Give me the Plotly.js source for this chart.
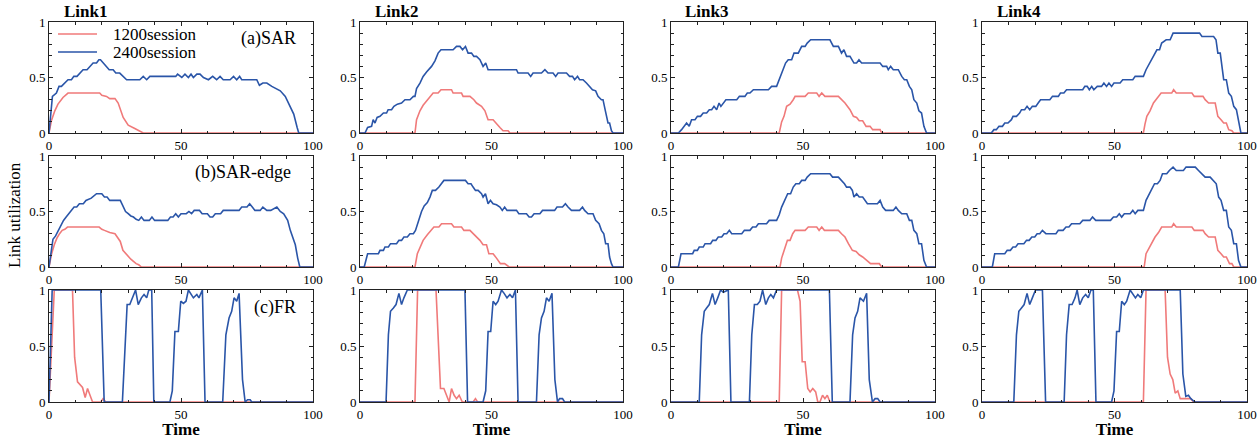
<!DOCTYPE html>
<html>
<head>
<meta charset="utf-8">
<script src="https://cdn.plot.ly/plotly-3.0.1.min.js"></script>
<style>html,body{margin:0;padding:0;background:#fff;}#chart{width:1260px;height:439px;}</style>
</head>
<body>
<div id="chart"></div>
<script>
// ---------------- DATA ----------------
const seriesNames = ["1200session", "2400session"];
const linkNames = ["Link1", "Link2", "Link3", "Link4"];
const schemeNames = ["(a)SAR", "(b)SAR-edge", "(c)FR"];
const xTicks = [0, 50, 100];
const yTicks = [0, 0.5, 1];
const yTickText = ["0", "0.5", "1"];

// (a) SAR
const sar1_t2400 = [0,1.3,2.8,3.8,4.7,5.9,7.2,8.5,9.4,10.6,11.6,12.9,14.4,15.4,16.7,18,18.9,19.5,20.5,21.8,22.8,24.3,25.3,26.8,28.1,29.4,34.4,35.7,37,38.2,48,48.7,50.3,51.5,52.8,53.8,54.7,56,57.2,58.5,60.4,62,63.5,64.8,66,68.6,69.9,71.1,72.2,73,78.7,79.7,81,82.5,84.4,86.3,87.6,89.5,90.8,92.7,94,94.6,100];
const sar1_v2400 = [0,0.33,0.36,0.42,0.42,0.45,0.48,0.48,0.51,0.51,0.54,0.57,0.57,0.6,0.63,0.63,0.66,0.66,0.63,0.6,0.57,0.57,0.54,0.54,0.51,0.48,0.48,0.51,0.48,0.51,0.51,0.53,0.5,0.53,0.5,0.53,0.5,0.53,0.53,0.5,0.48,0.51,0.48,0.51,0.48,0.48,0.51,0.48,0.51,0.48,0.48,0.43,0.45,0.45,0.42,0.40,0.38,0.33,0.27,0.17,0.05,0,0];
const sar1_t1200 = [0,0.9,2.2,3.4,5.3,7.2,19.2,20,21.8,23,25,26.2,28.1,30,32.5,34.4,35.7,100];
const sar1_v1200 = [0,0.11,0.2,0.26,0.32,0.36,0.36,0.34,0.33,0.31,0.31,0.27,0.14,0.07,0.04,0.02,0,0];

const sar2_t2400 = [0,1.9,2.9,3.8,4.4,5,5.7,6.5,7.6,8.9,10.1,10.7,12,12.9,14.2,15.8,17.1,19,20.3,20.9,21.5,22.8,24,25.3,27.2,28.5,29.7,30.8,35.4,36.7,38,39,40.1,41.1,42.4,43.3,44.3,45.6,46.8,47.8,48.7,59.5,60.1,63.9,64.9,65.8,69,70.3,71.5,73.4,74.4,75.3,78.5,79.7,80.8,81.6,82.7,83.5,84.8,86.1,87.3,88.4,89.6,90.5,91.8,92.4,93.3,94.3,94.9,95.6,96.2,100];
const sar2_v2400 = [0,0,0.05,0.06,0.06,0.12,0.09,0.14,0.15,0.18,0.18,0.21,0.21,0.24,0.26,0.27,0.3,0.3,0.33,0.33,0.4,0.45,0.51,0.55,0.6,0.65,0.72,0.75,0.75,0.78,0.78,0.75,0.78,0.72,0.72,0.69,0.69,0.66,0.6,0.63,0.57,0.57,0.54,0.54,0.51,0.54,0.54,0.57,0.54,0.54,0.51,0.54,0.54,0.51,0.51,0.48,0.51,0.48,0.48,0.45,0.42,0.39,0.38,0.33,0.3,0.3,0.2,0.09,0.09,0.02,0,0];
const sar2_t1200 = [0,20.9,21.5,22.8,24,25.3,26.6,27.8,29.7,30.8,34.8,35.4,38.6,39.2,41.8,43.3,44.3,46.2,47.5,48.7,50.6,51.9,53.2,54.4,56.3,57,100];
const sar2_v1200 = [0,0,0.12,0.2,0.25,0.29,0.33,0.36,0.36,0.39,0.39,0.36,0.36,0.33,0.33,0.3,0.27,0.24,0.2,0.12,0.12,0.08,0.05,0.02,0.02,0,0];

const sar3_t2400 = [0,2.8,4,5.9,6.9,7.8,9.1,10,11.2,12.2,13.5,14.5,15.4,16.3,17.3,18.2,18.9,19.8,20.8,24.9,25.9,28,28.9,29.9,31.2,36.9,38.1,40,41,42.3,43.4,44.4,45.7,46.6,48.2,49.5,50.8,51.6,52.9,60.2,61.5,63.4,64,64.6,65.5,66.5,67.8,69.3,70.3,71.2,72.2,79.2,80.2,81.7,82.3,83.2,84.2,86.1,87.4,88.4,89.3,90.3,91.2,92,93.1,93.9,94.9,95.8,96.8,100];
const sar3_v2400 = [0,0,0.03,0.09,0.06,0.12,0.12,0.15,0.15,0.18,0.18,0.21,0.21,0.24,0.21,0.27,0.24,0.27,0.3,0.3,0.33,0.33,0.36,0.36,0.39,0.39,0.42,0.42,0.48,0.57,0.63,0.66,0.66,0.72,0.72,0.78,0.78,0.81,0.84,0.84,0.78,0.78,0.75,0.72,0.75,0.69,0.69,0.63,0.63,0.66,0.63,0.63,0.6,0.6,0.57,0.6,0.57,0.57,0.51,0.48,0.48,0.42,0.39,0.3,0.27,0.2,0.18,0.06,0,0];
const sar3_t1200 = [0,41,41.9,42.8,43.8,45.1,46.3,47,50.8,52,55.2,56.1,57.1,58.3,63.4,64.6,65.9,67.8,69.1,70.3,71.3,72.6,73.9,75.4,76.4,79.2,79.8,100];
const sar3_v1200 = [0,0,0.1,0.15,0.24,0.26,0.3,0.33,0.33,0.36,0.36,0.33,0.36,0.33,0.33,0.3,0.27,0.21,0.15,0.14,0.11,0.11,0.06,0.06,0.03,0.03,0,0];

const sar4_t2400 = [0,3.5,4.5,5.4,6.4,7.7,8.6,9.8,11.1,11.7,13,14.2,14.9,16.1,17,18,19,20.3,21.2,22.1,25.6,26.6,28.8,29.6,30.9,31.9,38,38.8,39.7,40.5,41.4,42.2,43.5,45.1,46,47,47.9,48.9,49.8,52.1,53.1,56.9,57.8,60.9,61.9,63.2,64.7,66,67,67.8,69.5,71,72.1,82.1,83,87.4,88.3,89,89.9,91.2,92.2,93.1,94.1,95,96,96.8,97.7,100];
const sar4_v2400 = [0,0,0.03,0.03,0.06,0.06,0.09,0.09,0.12,0.15,0.15,0.18,0.21,0.21,0.24,0.21,0.24,0.24,0.27,0.3,0.3,0.33,0.33,0.36,0.36,0.39,0.39,0.42,0.42,0.39,0.42,0.39,0.42,0.42,0.45,0.42,0.45,0.42,0.45,0.45,0.48,0.48,0.51,0.51,0.57,0.63,0.69,0.75,0.75,0.81,0.84,0.84,0.9,0.9,0.87,0.87,0.84,0.72,0.72,0.48,0.48,0.36,0.33,0.24,0.21,0.1,0,0];
const sar4_t1200 = [0,60.9,61.5,62.2,63.4,64.7,66,67.6,71.6,72.3,73.3,79.2,80.1,83.4,84.2,85.5,88,89,90.2,91.2,92.2,93.1,94.3,95,100];
const sar4_v1200 = [0,0,0.08,0.15,0.2,0.27,0.31,0.36,0.36,0.39,0.36,0.36,0.33,0.33,0.3,0.27,0.27,0.15,0.12,0.09,0.09,0.03,0.02,0,0];

// (b) SAR-edge
const edge1_t2400 = [0,1.5,2.5,3.5,4.5,5.5,6.5,7.5,8.5,9.5,10.5,11.5,13,14,16,17,18,20,21,22,23,27,28,29,30,31,32,33,34,35,36,38,39,40,45,46,47,48,49,50,52,53,54,55,57,58,60,61,62,63,65,66,72,73,75,76,77,78,80,81,82.5,84,86.3,87.6,88.9,90.4,91.4,92.4,93.3,94.2,95,100];
const edge1_v2400 = [0,0.25,0.28,0.33,0.38,0.42,0.45,0.48,0.51,0.54,0.54,0.57,0.57,0.6,0.62,0.64,0.66,0.66,0.63,0.63,0.6,0.6,0.55,0.5,0.48,0.46,0.45,0.43,0.42,0.45,0.42,0.42,0.45,0.42,0.42,0.45,0.45,0.48,0.45,0.48,0.48,0.5,0.48,0.51,0.51,0.48,0.48,0.45,0.45,0.48,0.48,0.51,0.51,0.54,0.54,0.57,0.54,0.51,0.51,0.54,0.51,0.51,0.54,0.5,0.48,0.42,0.33,0.25,0.2,0.08,0,0];
const edge1_t1200 = [0,1,2,3,4,5,6,7,19,20,21,23,25,26,27,28,29,30,31,32,33,34,35,100];
const edge1_v1200 = [0,0.12,0.2,0.26,0.3,0.33,0.34,0.36,0.36,0.34,0.33,0.31,0.3,0.27,0.23,0.15,0.12,0.09,0.07,0.05,0.03,0.02,0,0];

const edge2_t2400 = [0,1.6,2.9,7,7.6,8.9,9.5,10.8,11.6,13.9,14.8,15.8,16.7,18,19,20.3,21.1,22.2,23.4,24.4,25.6,26.6,27.5,28.7,30,31.9,40.1,41.1,42.2,43,43.9,44.9,46.2,46.8,47.7,48.7,49.6,50.6,51.9,53.2,54.1,55,55.9,59.5,60.4,63.3,64.3,65.2,66.2,68.4,69.4,74,74.9,77,78.1,79.1,80.4,83.5,84.6,85.4,86.7,88.6,89.6,90.9,91.8,92.7,93.4,94.3,94.9,95.6,96.2,100];
const edge2_v2400 = [0,0,0.12,0.12,0.15,0.15,0.18,0.18,0.21,0.21,0.24,0.24,0.27,0.27,0.3,0.3,0.33,0.42,0.5,0.55,0.58,0.63,0.69,0.69,0.72,0.78,0.78,0.75,0.75,0.72,0.69,0.69,0.66,0.63,0.66,0.57,0.6,0.57,0.56,0.54,0.51,0.54,0.51,0.51,0.48,0.48,0.45,0.45,0.48,0.48,0.51,0.51,0.54,0.54,0.57,0.54,0.51,0.51,0.54,0.51,0.48,0.48,0.42,0.39,0.33,0.3,0.21,0.21,0.09,0.03,0,0];
const edge2_t1200 = [0,20.9,21.8,22.8,24,25.6,27.2,28.1,30,31,34.8,35.7,38.6,39.5,41.8,43,44.3,45.6,46.8,48.1,49,50.6,51.9,53.4,55,56.7,100];
const edge2_v1200 = [0,0,0.12,0.18,0.24,0.29,0.33,0.36,0.36,0.39,0.39,0.36,0.36,0.33,0.33,0.3,0.27,0.24,0.2,0.2,0.12,0.12,0.08,0.03,0.03,0,0];

const edge3_t2400 = [0,2.8,3.8,8.2,8.8,10,10.7,12.2,12.9,15,15.8,17,17.9,19.2,20.1,21.1,22.1,23,26.8,27.8,29.9,30.9,32.2,33.1,36.2,37.2,40,41,41.9,43.2,44.2,45.3,46.3,47.3,48.6,49.5,50.8,51.6,52.9,60.2,61.2,63.4,64.6,65.7,66.5,67.8,68.7,69.3,70.3,71.3,72.6,73.5,74.4,78.2,79.2,80.2,81.3,84.2,85.2,86.1,87.4,89.3,90.3,91.2,92,93.1,93.9,94.9,95.8,96.8,100];
const edge3_v2400 = [0,0,0.12,0.12,0.15,0.15,0.18,0.18,0.21,0.21,0.24,0.24,0.27,0.27,0.3,0.3,0.33,0.3,0.3,0.33,0.33,0.36,0.36,0.39,0.39,0.42,0.42,0.47,0.54,0.6,0.66,0.66,0.72,0.75,0.75,0.78,0.78,0.81,0.84,0.84,0.81,0.81,0.78,0.75,0.72,0.72,0.69,0.63,0.66,0.63,0.63,0.6,0.57,0.57,0.6,0.54,0.51,0.51,0.54,0.51,0.48,0.48,0.42,0.42,0.33,0.3,0.21,0.21,0.06,0,0];
const edge3_t1200 = [0,41.3,41.9,42.8,44.1,45.1,46.1,47,50.8,52,55.2,56.1,57.1,58.1,63.4,64.6,65.9,67.2,68.7,70.1,71.3,72.6,73.9,75.6,78.9,79.8,100];
const edge3_v1200 = [0,0,0.08,0.15,0.24,0.24,0.3,0.33,0.33,0.36,0.36,0.33,0.36,0.33,0.33,0.3,0.27,0.21,0.15,0.14,0.11,0.09,0.06,0.03,0.03,0,0];

const edge4_t2400 = [0,3.9,4.8,8.6,9.5,10.7,11.7,12.7,13.6,15.8,16.8,17.8,18.8,19.9,20.8,21.8,22.8,24.1,27.9,28.8,30.6,31.7,32.8,33.8,36.9,38,40.7,41.7,42.9,48.5,49.6,50.8,51.8,52.7,53.7,55.9,56.9,57.8,58.8,60.9,61.9,63.2,64.1,65.1,66.2,67.2,68.1,69.7,70.7,72.1,73.3,76,77,80.5,81.7,83,84.2,86.1,87.4,88.4,89.3,90.2,91.2,92.2,93.1,94.1,95,96,96.8,97.7,100];
const edge4_v2400 = [0,0,0.12,0.12,0.15,0.15,0.18,0.18,0.21,0.21,0.24,0.24,0.27,0.27,0.3,0.3,0.33,0.3,0.3,0.33,0.33,0.36,0.36,0.39,0.39,0.42,0.42,0.45,0.42,0.42,0.45,0.45,0.48,0.45,0.48,0.48,0.51,0.48,0.51,0.51,0.6,0.66,0.69,0.75,0.75,0.78,0.84,0.84,0.87,0.9,0.87,0.87,0.9,0.9,0.87,0.84,0.81,0.81,0.78,0.75,0.63,0.6,0.51,0.51,0.36,0.33,0.21,0.21,0.06,0,0];
const edge4_t1200 = [0,61.2,61.9,63.2,64.1,65.3,66.6,67.8,71.6,72.3,73.3,79.2,80.1,83.4,84.2,85.5,88,89,90.2,91.2,92.2,93.4,94.3,95,100];
const edge4_v1200 = [0,0,0.12,0.18,0.21,0.27,0.31,0.36,0.36,0.39,0.36,0.36,0.33,0.33,0.3,0.27,0.27,0.15,0.12,0.09,0.09,0.03,0.03,0,0];

// (c) FR
const fr1_t2400 = [0,1.2,19.6,20.9,27.8,28.7,29.6,30.6,31.6,32.8,33.8,35,36,37,37.8,38.9,39.7,45.8,46.7,47.7,49,49.9,50.9,51.9,52.8,53.7,54.7,56,56.8,58.1,59.1,65.8,67,68.2,69.2,70.1,71.1,72,73.3,74.3,75.2,76.2,76.8,100];
const fr1_v2400 = [0,1,1,0,0,0.5,0.87,0.87,0.93,1,0.87,0.93,0.96,0.93,1,1,0,0,0.1,0.63,0.63,0.9,0.88,0.9,1,0.97,0.93,0.96,0.93,1,0,0,0.6,0.75,0.81,0.93,0.9,0.97,0.2,0,0.02,0.02,0,0];
const fr1_t1200 = [0,1,2,8.9,9.7,10.8,11.6,12.7,13.7,14.6,15.4,16.5,19.6,20.5,21.5,100];
const fr1_v1200 = [0,0.5,1,1,0.4,0.18,0.16,0.13,0.04,0.12,0.07,0,0,0.03,0,0];

const fr2_t2400 = [0,9.9,10.8,11.6,12.7,13.7,14.8,15.8,16.7,18,39.9,40.9,46.8,47.8,48.7,49.7,50.6,51.6,52.5,53.8,54.8,55.9,57,58,59.1,60.1,67.1,68.1,69,70,70.9,71.9,73,74.1,75.1,75.9,77,77.8,100];
const fr2_v2400 = [0,0,0.6,0.81,0.84,0.87,0.97,0.87,0.93,1,1,0,0,0.1,0.63,0.63,0.9,0.87,0.9,1,0.97,0.93,0.96,0.93,1,0,0,0.6,0.75,0.81,0.93,0.9,0.97,0.2,0,0.03,0.03,0,0];
const fr2_t1200 = [0,20.9,21.9,28.9,30.6,31.9,32.9,33.9,34.8,35.8,36.7,37.7,38.9,43,43.9,44.7,100];
const fr2_v1200 = [0,0,1,1,0.12,0.12,0.06,0,0.12,0.06,0.03,0.06,0,0,0.03,0,0];

const fr3_t2400 = [0,10.7,11.6,12.6,13.5,14.5,15.7,16.7,17.7,18.8,19.8,21.7,22.7,29.7,30.6,31.6,32.7,33.7,34.7,35.9,36.9,37.8,38.8,40,60,61.1,67.8,68.8,69.7,70.7,71.6,72.9,74.1,75.1,76.3,77.3,78.3,79.2,100];
const fr3_v2400 = [0,0,0.6,0.81,0.84,0.87,0.97,0.87,0.93,1,0.98,1,0,0,0.6,0.87,0.87,0.9,1,0.87,0.93,0.96,0.93,1,1,0,0,0.6,0.75,0.81,0.93,0.9,0.97,0.2,0,0.03,0.03,0,0];
const fr3_t1200 = [0,41,41.9,47.9,48.9,49.7,50.8,51.8,52.7,53.7,54.8,55.6,56.4,57.4,58.3,59.2,60.2,100];
const fr3_v1200 = [0,0,1,1,0.9,0.36,0.36,0.12,0.09,0.12,0.09,0,0,0.06,0.03,0.06,0,0];

const fr4_t2400 = [0,12,13,13.9,14.9,15.9,17,18,19,20.2,22.8,24,31,31.9,32.9,34,35.1,35.9,36.9,38,39.1,40.1,41.1,42,43,48.9,49.8,50.8,51.8,52.7,53.7,54.6,55.9,56.9,57.9,58.8,59.9,60.9,74.8,75.8,76.9,77.9,78.8,79.8,80.5,100];
const fr4_v2400 = [0,0,0.6,0.81,0.84,0.87,0.97,0.87,0.93,1,1,0,0,0.6,0.87,0.87,0.93,1,0.87,0.93,0.96,0.93,1,1,0,0,0.1,0.63,0.63,0.9,0.87,0.9,1,0.96,0.93,0.96,0.93,1,1,0.25,0.05,0.06,0.03,0.01,0,0];
const fr4_t1200 = [0,60.9,61.9,69.1,70,71,72,72.9,73.9,74.8,78.8,79.8,100];
const fr4_v1200 = [0,0,1,1,0.4,0.25,0.2,0.08,0.1,0.03,0.03,0,0];

// ---------------- LAYOUT / DRAWING ----------------
const panels = [
  [[sar1_t1200,sar1_v1200,sar1_t2400,sar1_v2400],[sar2_t1200,sar2_v1200,sar2_t2400,sar2_v2400],[sar3_t1200,sar3_v1200,sar3_t2400,sar3_v2400],[sar4_t1200,sar4_v1200,sar4_t2400,sar4_v2400]],
  [[edge1_t1200,edge1_v1200,edge1_t2400,edge1_v2400],[edge2_t1200,edge2_v1200,edge2_t2400,edge2_v2400],[edge3_t1200,edge3_v1200,edge3_t2400,edge3_v2400],[edge4_t1200,edge4_v1200,edge4_t2400,edge4_v2400]],
  [[fr1_t1200,fr1_v1200,fr1_t2400,fr1_v2400],[fr2_t1200,fr2_v1200,fr2_t2400,fr2_v2400],[fr3_t1200,fr3_v1200,fr3_t2400,fr3_v2400],[fr4_t1200,fr4_v1200,fr4_t2400,fr4_v2400]]
];

const W = 1260, H = 439;
const colPx = [[49,313],[360,623],[671,935],[982,1247]];
const rowPx = [[22,133],[156,267],[290,402]];
const px = v => v / W;
const py = v => 1 - v / H;
const COLORS = ["#f07a7a", "#2a55a8"];
const FONT = "Liberation Serif, Times New Roman, serif";

const traces = [];
const layout = {
  width: W, height: H,
  margin: {l:0, r:0, t:0, b:0},
  paper_bgcolor: "#fff", plot_bgcolor: "#fff",
  font: {family: FONT, size: 12, color: "#000"},
  showlegend: false,
  annotations: [], shapes: []
};

for (let r = 0; r < 3; r++) {
  for (let c = 0; c < 4; c++) {
    const idx = r * 4 + c + 1;
    const xa = "x" + idx, ya = "y" + idx;
    const d = panels[r][c];
    for (let s = 0; s < 2; s++) {
      traces.push({x: d[2*s], y: d[2*s+1], xaxis: xa, yaxis: ya, type: "scatter", mode: "lines",
        name: seriesNames[s], line: {color: COLORS[s], width: 1.6}, hoverinfo: "skip"});
    }
    const axCommon = {showline: true, linecolor: "#222", linewidth: 1, mirror: "ticks",
      ticks: "inside", ticklen: 4, tickcolor: "#222", showgrid: false, zeroline: false,
      tickfont: {family: FONT, size: 13, color: "#000"}, fixedrange: true};
    layout["xaxis" + idx] = Object.assign({}, axCommon, {
      anchor: ya, domain: [px(colPx[c][0]), px(colPx[c][1])], range: [0, 100],
      tickvals: xTicks, ticktext: xTicks.map(String),
      minor: {ticks: "inside", ticklen: 2.5, dtick: 10, tick0: 0, tickcolor: "#222"},
      title: r === 2 ? {text: "<b>Time</b>", font: {family: FONT, size: 17, color: "#000"}, standoff: 0} : {text: ""}
    });
    layout["yaxis" + idx] = Object.assign({}, axCommon, {
      anchor: xa, domain: [py(rowPx[r][1]), py(rowPx[r][0])], range: [0, 1],
      tickvals: yTicks, ticktext: yTickText,
      minor: {ticks: "inside", ticklen: 2.5, dtick: 0.1, tick0: 0, tickcolor: "#222"}
    });
  }
}

// legend (inside first panel)
const legY = [34, 52];
seriesNames.forEach((n, i) => {
  layout.shapes.push({type: "line", xref: "paper", yref: "paper",
    x0: px(58), x1: px(97), y0: py(legY[i]), y1: py(legY[i]),
    line: {color: COLORS[i], width: 1.6}});
  layout.annotations.push({text: n, xref: "paper", yref: "paper", x: px(111), y: py(legY[i]),
    xanchor: "left", yanchor: "middle", showarrow: false,
    font: {family: FONT, size: 17, color: "#000"}});
});

// link titles
const titleX = [62, 373, 683, 995];
linkNames.forEach((n, i) => layout.annotations.push({
  text: "<b>" + n + "</b>", xref: "paper", yref: "paper", x: px(titleX[i]), y: py(12),
  xanchor: "left", yanchor: "middle", showarrow: false, font: {family: FONT, size: 17, color: "#000"}
}));
// scheme labels
const schemePos = [[298, 38], [293, 172], [298, 307]];
schemeNames.forEach((n, i) => layout.annotations.push({
  text: n, xref: "paper", yref: "paper", x: px(schemePos[i][0]), y: py(schemePos[i][1]),
  xanchor: "right", yanchor: "middle", showarrow: false, font: {family: FONT, size: 18, color: "#000"}
}));
// y label
layout.annotations.push({
  text: "Link utilization", xref: "paper", yref: "paper", x: px(14), y: py(215),
  xanchor: "center", yanchor: "middle", textangle: -90, showarrow: false,
  font: {family: FONT, size: 17, color: "#000"}
});

Plotly.newPlot("chart", traces, layout, {staticPlot: true, displayModeBar: false});
</script>
</body>
</html>
